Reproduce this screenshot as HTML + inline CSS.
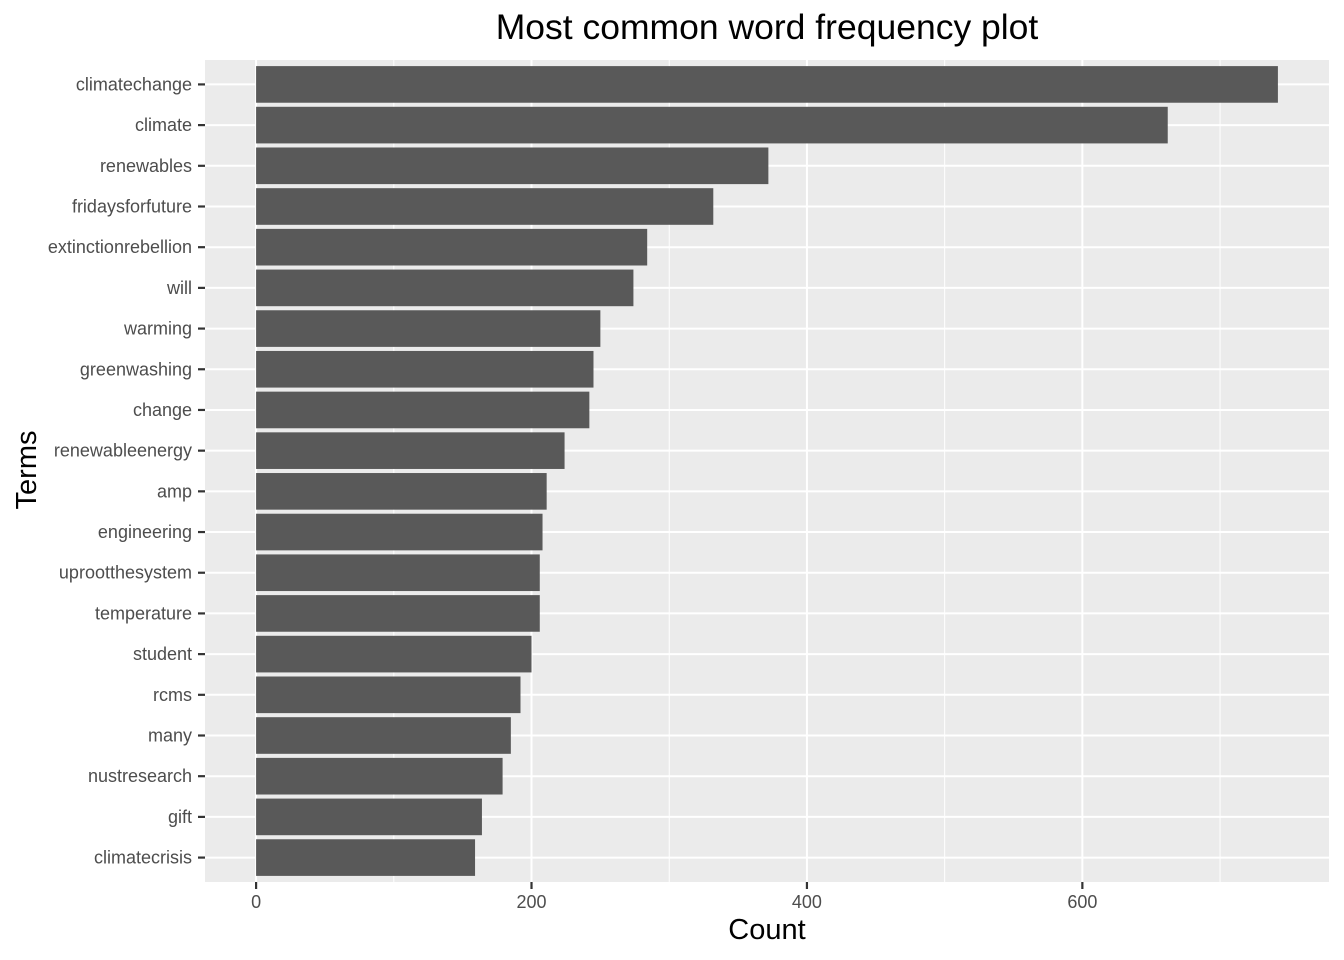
<!DOCTYPE html>
<html><head><meta charset="utf-8"><style>body{margin:0;background:#fff}svg{display:block}</style></head>
<body>
<svg id="c" width="1344" height="960" xmlns="http://www.w3.org/2000/svg" font-family="Liberation Sans, sans-serif">
<rect width="1344" height="960" fill="#fff"/>
<text x="767" y="39" font-size="35.5" text-anchor="middle" fill="#000">Most common word frequency plot</text>
<text x="767" y="939" font-size="29" text-anchor="middle" fill="#000">Count</text>
<text transform="translate(36,470) rotate(-90)" font-size="29" text-anchor="middle" fill="#000">Terms</text>
<g id="plot"></g>
</svg>
<script>
const terms = ["climatechange","climate","renewables","fridaysforfuture","extinctionrebellion","will","warming","greenwashing","change","renewableenergy","amp","engineering","uprootthesystem","temperature","student","rcms","many","nustresearch","gift","climatecrisis"];
const counts = [742,662,372,332,284,274,250,245,242,224,211,208,206,206,200,192,185,179,164,159];
const xTicks = [0,200,400,600];
const xMinor = [100,300,500,700];

const NS="http://www.w3.org/2000/svg";
const g=document.getElementById('plot');
const L=205,R=1329,T=60,B=882;
const maxV=Math.max(...counts);
const pad=maxV*0.05;
const x=v=>L+(v+pad)/(maxV+2*pad)*(R-L);
const step=(B-T)/(terms.length-1+1.2);
const y=i=>T+(0.6+i)*step;
function el(tag,attrs,name){const e=document.createElementNS(NS,tag);for(const k in attrs)e.setAttribute(k,attrs[k]);


g.appendChild(e);return e;}
el('rect',{x:L,y:T,width:R-L,height:B-T,fill:'#ebebeb'},'plot-panel');
xMinor.forEach(v=>el('line',{x1:x(v),x2:x(v),y1:T,y2:B,stroke:'#fff','stroke-width':1},'x-minor-gridline'));
xTicks.forEach(v=>el('line',{x1:x(v),x2:x(v),y1:T,y2:B,stroke:'#fff','stroke-width':2},'x-gridline'));
terms.forEach((t,i)=>el('line',{x1:L,x2:R,y1:y(i),y2:y(i),stroke:'#fff','stroke-width':2},'y-gridline'));
terms.forEach((t,i)=>{
  el('rect',{x:x(0),y:y(i)-step*0.45,width:x(counts[i])-x(0),height:step*0.9,fill:'#595959'},'bar-'+t);
  el('line',{x1:L-7,x2:L,y1:y(i),y2:y(i),stroke:'#333','stroke-width':2.2},'y-tick');
  const tx=el('text',{x:L-13,y:y(i)+6,'font-size':18,'text-anchor':'end',fill:'#4d4d4d'},'y-tick-label');
  tx.textContent=t;
});
xTicks.forEach(v=>{
  el('line',{x1:x(v),x2:x(v),y1:B,y2:B+7,stroke:'#333','stroke-width':2.2},'x-tick');
  const tx=el('text',{x:x(v),y:B+26,'font-size':18,'text-anchor':'middle',fill:'#4d4d4d'},'x-tick-label');
  tx.textContent=v;
});
</script>
</body></html>
